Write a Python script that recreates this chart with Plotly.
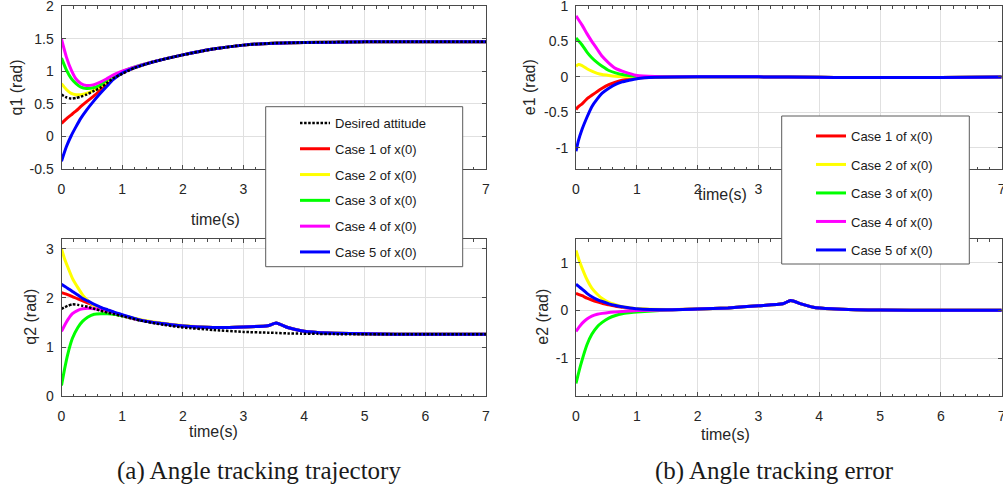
import plotly.graph_objects as go

W, H = 1003, 484


def px(x):
    return x / W


def py(y):
    return 1 - y / H


# ---------------- data ----------------
case_names = ["Case 1 of x(0)", "Case 2 of x(0)", "Case 3 of x(0)",
              "Case 4 of x(0)", "Case 5 of x(0)"]
case_colors = ["#ff0000", "#ffff00", "#00ff00", "#ff00ff", "#0000ff"]
desired_name = "Desired attitude"

# q1 trajectories
t_q1 = [0, 0.08, 0.16, 0.24, 0.32, 0.41, 0.52, 0.63, 0.74, 0.85, 1.0,
        1.2, 1.5, 2.0, 2.5, 3.0, 3.5, 4.0, 5.0, 6.0, 7.0]
q1_desired = [0.64, 0.60, 0.58, 0.59, 0.61, 0.64, 0.69, 0.74, 0.81, 0.89, 0.96,
              1.05, 1.14, 1.25, 1.34, 1.40, 1.43, 1.44, 1.45, 1.45, 1.45]
q1_case1 = [0.20, 0.27, 0.33, 0.39, 0.46, 0.53, 0.61, 0.70, 0.80, 0.89, 0.97,
            1.05, 1.14, 1.25, 1.34, 1.40, 1.43, 1.44, 1.45, 1.45, 1.45]
q1_case2 = [0.81, 0.72, 0.66, 0.64, 0.64, 0.66, 0.70, 0.755, 0.83, 0.91, 0.98,
            1.05, 1.14, 1.25, 1.34, 1.40, 1.43, 1.44, 1.45, 1.45, 1.45]
q1_case3 = [1.20, 1.02, 0.89, 0.81, 0.755, 0.735, 0.745, 0.785, 0.86, 0.93, 0.99,
            1.06, 1.14, 1.25, 1.34, 1.40, 1.43, 1.44, 1.45, 1.45, 1.45]
q1_case4 = [1.49, 1.22, 1.02, 0.88, 0.81, 0.78, 0.79, 0.83, 0.88, 0.94, 1.00,
            1.06, 1.14, 1.25, 1.34, 1.40, 1.43, 1.44, 1.45, 1.45, 1.45]
q1_case5 = [-0.38, -0.16, 0.01, 0.15, 0.28, 0.40, 0.53, 0.65, 0.76, 0.87, 0.97,
            1.05, 1.14, 1.25, 1.34, 1.40, 1.43, 1.44, 1.45, 1.45, 1.45]

# q2 trajectories
t_q2 = [0, 0.05, 0.1, 0.18, 0.27, 0.35, 0.43, 0.54, 0.65, 0.76, 0.87, 1.0,
        1.3, 1.65, 2.0, 2.5, 3.0, 3.4, 3.54, 3.73, 3.95, 4.22, 4.5, 5.0, 6.0, 7.0]
q2_desired = [1.78, 1.81, 1.84, 1.87, 1.86, 1.84, 1.82, 1.78, 1.74, 1.70, 1.67, 1.63,
              1.54, 1.46, 1.40, 1.35, 1.31, 1.295, 1.29, 1.28, 1.275, 1.27, 1.265,
              1.26, 1.26, 1.26]
q2_case1 = [2.11, 2.09, 2.07, 2.03, 1.98, 1.94, 1.90, 1.85, 1.80, 1.75, 1.70, 1.64,
            1.55, 1.48, 1.43, 1.40, 1.41, 1.435, 1.49, 1.40, 1.335, 1.30, 1.285,
            1.27, 1.26, 1.26]
q2_case2 = [3.00, 2.80, 2.64, 2.40, 2.21, 2.06, 1.95, 1.84, 1.76, 1.71, 1.67, 1.64,
            1.56, 1.49, 1.44, 1.40, 1.41, 1.435, 1.49, 1.40, 1.335, 1.30, 1.285,
            1.27, 1.26, 1.26]
q2_case3 = [0.22, 0.55, 0.84, 1.18, 1.40, 1.53, 1.61, 1.67, 1.68, 1.68, 1.67, 1.64,
            1.55, 1.48, 1.43, 1.40, 1.41, 1.435, 1.49, 1.40, 1.335, 1.30, 1.285,
            1.27, 1.26, 1.26]
q2_case4 = [1.32, 1.44, 1.55, 1.68, 1.75, 1.78, 1.79, 1.78, 1.76, 1.74, 1.70, 1.65,
            1.55, 1.48, 1.43, 1.40, 1.41, 1.435, 1.49, 1.40, 1.335, 1.30, 1.285,
            1.27, 1.26, 1.26]
q2_case5 = [2.28, 2.24, 2.20, 2.13, 2.06, 1.99, 1.94, 1.87, 1.81, 1.76, 1.71, 1.66,
            1.55, 1.48, 1.43, 1.40, 1.41, 1.435, 1.49, 1.40, 1.335, 1.30, 1.285,
            1.27, 1.26, 1.26]

# e1 tracking errors
t_e1 = [0, 0.04, 0.1, 0.18, 0.26, 0.35, 0.43, 0.54, 0.65, 0.76, 0.87, 1.0,
        1.3, 2.0, 3.0, 4.0, 4.5, 5.0, 6.0, 7.0]
e1_case1 = [-0.46, -0.42, -0.38, -0.31, -0.26, -0.205, -0.16, -0.11, -0.076, -0.048,
            -0.03, -0.015, -0.004, 0.0, 0.0, -0.005, -0.01, -0.01, -0.008, -0.003]
e1_case2 = [0.15, 0.175, 0.16, 0.115, 0.08, 0.05, 0.033, 0.02, 0.01, 0.005,
            0.002, 0.0, 0.0, 0.0, 0.0, -0.005, -0.01, -0.01, -0.008, -0.003]
e1_case3 = [0.55, 0.51, 0.45, 0.35, 0.27, 0.20, 0.15, 0.09, 0.057, 0.033,
            0.02, 0.01, 0.003, 0.0, 0.0, -0.005, -0.01, -0.01, -0.008, -0.003]
e1_case4 = [0.86, 0.81, 0.73, 0.61, 0.50, 0.39, 0.29, 0.195, 0.12, 0.08,
            0.05, 0.02, 0.005, 0.0, 0.0, -0.005, -0.01, -0.01, -0.008, -0.003]
e1_case5 = [-1.05, -0.90, -0.74, -0.57, -0.42, -0.31, -0.23, -0.16, -0.105, -0.07,
            -0.048, -0.025, -0.006, 0.0, 0.0, -0.005, -0.01, -0.01, -0.008, -0.003]

# e2 tracking errors
t_e2 = [0, 0.05, 0.1, 0.18, 0.26, 0.35, 0.43, 0.54, 0.65, 0.76, 0.87, 1.0,
        1.5, 2.0, 2.5, 3.0, 3.4, 3.53, 3.7, 3.9, 4.2, 4.6, 5.0, 6.0, 7.0]
e2_case1 = [0.36, 0.335, 0.31, 0.26, 0.22, 0.18, 0.15, 0.12, 0.09, 0.07, 0.05, 0.03,
            0.015, 0.03, 0.055, 0.10, 0.14, 0.21, 0.14, 0.07, 0.035, 0.015, 0.01,
            0.005, 0.003]
e2_case2 = [1.26, 1.06, 0.89, 0.65, 0.47, 0.34, 0.25, 0.17, 0.12, 0.08, 0.06, 0.04,
            0.02, 0.03, 0.055, 0.10, 0.14, 0.21, 0.14, 0.07, 0.035, 0.015, 0.01,
            0.005, 0.003]
e2_case3 = [-1.53, -1.27, -1.04, -0.72, -0.50, -0.34, -0.25, -0.16, -0.105, -0.07,
            -0.05, -0.03, 0.01, 0.03, 0.055, 0.10, 0.14, 0.21, 0.14, 0.07, 0.035,
            0.015, 0.01, 0.005, 0.003]
e2_case4 = [-0.44, -0.35, -0.27, -0.18, -0.12, -0.08, -0.06, -0.04, -0.03, -0.02,
            -0.01, 0.0, 0.012, 0.03, 0.055, 0.10, 0.14, 0.21, 0.14, 0.07, 0.035,
            0.015, 0.01, 0.005, 0.003]
e2_case5 = [0.55, 0.50, 0.45, 0.36, 0.29, 0.23, 0.19, 0.14, 0.105, 0.077, 0.056,
            0.035, 0.015, 0.03, 0.055, 0.10, 0.14, 0.21, 0.14, 0.07, 0.035, 0.015,
            0.01, 0.005, 0.003]

# axis ticks
x_ticks = [0, 1, 2, 3, 4, 5, 6, 7]
x_ticktext = ["0", "1", "2", "3", "4", "5", "6", "7"]
# the legend frames sit over 4-6 on the upper axes
x_ticktext_upper = ["0", "1", "2", "3", "", "", "", "7"]
q1_ticks = [-0.5, 0, 0.5, 1, 1.5, 2]
q1_ticktext = ["-0.5", "0", "0.5", "1", "1.5", "2"]
q2_ticks = [0, 1, 2, 3]
q2_ticktext = ["0", "1", "2", "3"]
e1_ticks = [-1, -0.5, 0, 0.5, 1]
e1_ticktext = ["-1", "-0.5", "0", "0.5", "1"]
e2_ticks = [-1, 0, 1]
e2_ticktext = ["-1", "0", "1"]

# ---------------- figure ----------------
AXIS_COLOR = "#4a4a4a"
TEXT_COLOR = "#262626"
SANS = "Liberation Sans"
LW = 3.0

fig = go.Figure()


def add_cases(t, series, xa, ya, legend, show):
    for rank, (name, color, y) in enumerate(zip(case_names, case_colors, series)):
        fig.add_trace(go.Scatter(
            x=t, y=y, xaxis=xa, yaxis=ya, mode="lines", name=name,
            line=dict(color=color, width=LW, shape="spline", smoothing=0.5),
            legend=legend, legendgroup=legend + name, showlegend=show,
            legendrank=rank + 2, hoverinfo="skip"))


def add_desired(t, y, xa, ya, show):
    fig.add_trace(go.Scatter(
        x=t, y=y, xaxis=xa, yaxis=ya, mode="lines", name=desired_name,
        line=dict(color="#000000", width=2.5, dash="2.5px,1.6px",
                  shape="spline", smoothing=0.5),
        legend="legend", legendgroup="legend" + desired_name, showlegend=show,
        legendrank=1, hoverinfo="skip"))


add_cases(t_q1, [q1_case1, q1_case2, q1_case3, q1_case4, q1_case5],
          "x", "y", "legend", True)
add_desired(t_q1, q1_desired, "x", "y", True)
add_cases(t_q2, [q2_case1, q2_case2, q2_case3, q2_case4, q2_case5],
          "x2", "y2", "legend", False)
add_desired(t_q2, q2_desired, "x2", "y2", False)
add_cases(t_e1, [e1_case1, e1_case2, e1_case3, e1_case4, e1_case5],
          "x3", "y3", "legend2", True)
add_cases(t_e2, [e2_case1, e2_case2, e2_case3, e2_case4, e2_case5],
          "x4", "y4", "legend2", False)


def xaxis(domain, anchor, ticktext):
    return dict(domain=domain, anchor=anchor, range=[0, 7], tickvals=x_ticks,
                ticktext=ticktext,
                showline=True, linecolor=AXIS_COLOR, linewidth=1, mirror="allticks",
                ticks="inside", ticklen=4, tickcolor=AXIS_COLOR, tickwidth=1,
                minor=dict(dtick=0.2, ticks="inside", ticklen=2.5,
                           tickcolor=AXIS_COLOR, showgrid=False),
                showgrid=True, gridcolor="#e0e0e0", gridwidth=1, zeroline=False,
                tickfont=dict(family=SANS, size=14, color=TEXT_COLOR),
                ticklabelstandoff=7, ticklabeloverflow="allow",
                automargin=False, fixedrange=True)


def yaxis(domain, anchor, rng, vals, text):
    return dict(domain=domain, anchor=anchor, range=rng, tickvals=vals, ticktext=text,
                showline=True, linecolor=AXIS_COLOR, linewidth=1, mirror="allticks",
                ticks="inside", ticklen=4, tickcolor=AXIS_COLOR, tickwidth=1,
                showgrid=True, gridcolor="#e0e0e0", gridwidth=1, zeroline=False,
                tickfont=dict(family=SANS, size=14, color=TEXT_COLOR),
                ticklabelstandoff=4, ticklabeloverflow="allow",
                automargin=False, fixedrange=True)


left_dom = [px(61.5), px(486)]
right_dom = [px(576), px(1001.7)]
top_dom = [py(169), py(6)]
bot_dom = [py(396.3), py(239)]

fig.update_layout(
    width=W, height=H,
    margin=dict(l=0, r=0, t=0, b=0, pad=0, autoexpand=False),
    paper_bgcolor="white", plot_bgcolor="white",
    xaxis=xaxis(left_dom, "y", x_ticktext_upper),
    yaxis=yaxis(top_dom, "x", [-0.5, 2], q1_ticks, q1_ticktext),
    xaxis2=xaxis(left_dom, "y2", x_ticktext),
    yaxis2=yaxis(bot_dom, "x2", [0, 3.2], q2_ticks, q2_ticktext),
    xaxis3=xaxis(right_dom, "y3", x_ticktext_upper),
    yaxis3=yaxis(top_dom, "x3", [-1.3, 1], e1_ticks, e1_ticktext),
    xaxis4=xaxis(right_dom, "y4", x_ticktext),
    yaxis4=yaxis(bot_dom, "x4", [-1.8, 1.5], e2_ticks, e2_ticktext),
    legend=dict(x=px(295), y=py(108), xanchor="left", yanchor="top",
                bgcolor="rgba(0,0,0,0)", borderwidth=0, traceorder="grouped",
                tracegroupgap=5.9, itemwidth=30,
                font=dict(family=SANS, size=13, color="#1a1a1a")),
    legend2=dict(x=px(811), y=py(121), xanchor="left", yanchor="top",
                 bgcolor="rgba(0,0,0,0)", borderwidth=0, traceorder="grouped",
                 tracegroupgap=8.6, itemwidth=30,
                 font=dict(family=SANS, size=13, color="#1a1a1a")),
    showlegend=True,
)

# legend frames
for x0, y0, x1, y1 in [(265.7, 106.7, 462.7, 266.7), (781.7, 116, 969.3, 264)]:
    fig.add_shape(type="rect", xref="paper", yref="paper",
                  x0=px(x0), x1=px(x1), y0=py(y1), y1=py(y0),
                  line=dict(color="#5a5a5a", width=1), fillcolor="white",
                  layer="above")

# axis titles and sub-captions
title_font = dict(family=SANS, size=16, color=TEXT_COLOR)
labels = [
    ("time(s)", 215.8, 219.5, 0),
    ("time(s)", 213.8, 431.0, 0),
    ("time(s)", 722.8, 194.5, 0),
    ("time(s)", 725.0, 434.5, 0),
    ("q1 (rad)", 16, 87.5, -90),
    ("q2 (rad)", 31, 316.7, -90),
    ("e1 (rad)", 529.7, 87.5, -90),
    ("e2 (rad)", 543, 316.7, -90),
]
for text, x, y, ang in labels:
    fig.add_annotation(text=text, x=px(x), y=py(y), xref="paper", yref="paper",
                       xanchor="center", yanchor="middle", textangle=ang,
                       showarrow=False, font=title_font)

caption_font = dict(family="Liberation Serif", size=25, color="#1a1a1a")
for text, x in [("(a) Angle tracking trajectory", 259.2),
                ("(b) Angle tracking error", 774.7)]:
    fig.add_annotation(text=text, x=px(x), y=py(471), xref="paper", yref="paper",
                       xanchor="center", yanchor="middle", showarrow=False,
                       font=caption_font)

fig.write_html("out.html", config={"displayModeBar": False})
